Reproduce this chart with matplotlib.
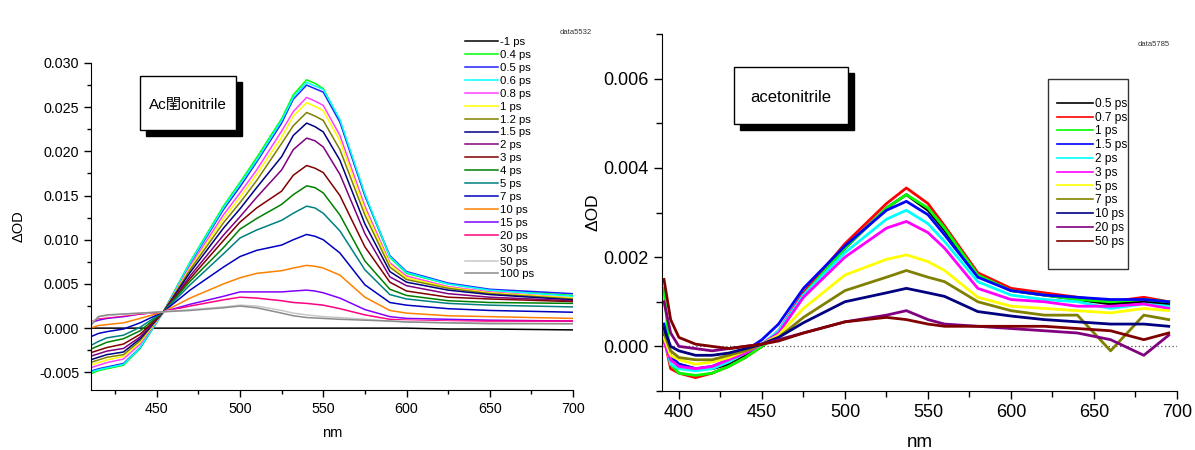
import numpy as np
import matplotlib
matplotlib.use('Agg')
import matplotlib.pyplot as plt
from matplotlib.patches import Rectangle

plt.rcParams['font.family'] = ['Liberation Sans', 'Noto Sans CJK JP', 'DejaVu Sans']
plt.rcParams['axes.unicode_minus'] = False

# ---- left panel: data5532 (values in mOD) ----
nm_left = [410, 415, 420, 430, 440, 454, 470, 490, 500, 510, 525, 532, 540, 545, 550, 560, 575, 590, 600, 625, 650, 700]
labels_left = ['-1 ps', '0.4 ps', '0.5 ps', '0.6 ps', '0.8 ps', '1 ps', '1.2 ps', '1.5 ps', '2 ps', '3 ps',
               '4 ps', '5 ps', '7 ps', '10 ps', '15 ps', '20 ps', '30 ps', '50 ps', '100 ps']
colors_left = ['#000000', '#00ff00', '#2020ff', '#00ffff', '#ff40ff', '#ffff00', '#808000', '#000080',
               '#800080', '#800000', '#008000', '#008080', '#0000c0', '#ff8000', '#8000ff', '#ff0080',
               '#ffffff', '#c8c8c8', '#8c8c8c']
s_m1 = [0, 0, 0, 0, 0, 0, 0, 0, 0, 0, 0, 0, 0, 0, 0, 0, 0, 0, 0, -0.1, -0.1, -0.2]
s_04 = [-5.2, -4.8, -4.6, -4.2, -2.3, 1.85, 7.5, 13.8, 16.5, 19.3, 23.7, 26.4, 28.1, 27.7, 27.1, 23.5, 15.0, 8.0, 6.2, 5.0, 4.3, 3.7]
s_05 = [-4.9, -4.6, -4.4, -4.0, -2.2, 1.85, 7.3, 13.4, 16.0, 18.8, 23.2, 25.9, 27.5, 27.1, 26.7, 23.3, 15.0, 8.2, 6.4, 5.1, 4.4, 3.9]
s_06 = [-5.0, -4.7, -4.5, -4.1, -2.2, 1.85, 7.4, 13.6, 16.3, 19.0, 23.5, 26.1, 27.8, 27.4, 27.0, 23.6, 15.2, 8.1, 6.3, 5.0, 4.3, 3.6]
s_08 = [-4.5, -4.2, -3.9, -3.5, -1.8, 1.85, 7.0, 12.8, 15.3, 17.9, 22.3, 24.5, 26.1, 25.7, 25.2, 21.8, 13.8, 7.4, 5.9, 4.7, 4.1, 3.4]
s_1 = [-4.2, -3.9, -3.6, -3.2, -1.6, 1.85, 6.8, 12.4, 14.8, 17.4, 21.6, 24.0, 25.5, 25.1, 24.6, 21.2, 13.4, 7.2, 5.7, 4.6, 4.0, 3.4]
s_12 = [-3.9, -3.6, -3.3, -3.0, -1.4, 1.85, 6.6, 11.9, 14.2, 16.7, 20.9, 22.9, 24.4, 24.0, 23.5, 20.2, 12.8, 6.9, 5.5, 4.5, 3.9, 3.3]
s_15 = [-3.6, -3.3, -3.0, -2.7, -1.2, 1.85, 6.3, 11.3, 13.5, 15.9, 19.4, 21.8, 23.2, 22.8, 22.2, 19.0, 11.8, 6.4, 5.2, 4.3, 3.8, 3.2]
s_2 = [-3.2, -2.9, -2.6, -2.3, -1.0, 1.85, 5.9, 10.5, 12.6, 14.8, 17.9, 20.2, 21.5, 21.2, 20.5, 17.4, 10.7, 5.8, 4.8, 3.9, 3.5, 3.1]
s_3 = [-2.8, -2.5, -2.2, -1.8, -0.7, 1.85, 5.6, 9.9, 12.0, 13.6, 15.5, 17.3, 18.4, 18.1, 17.6, 15.0, 9.2, 5.2, 4.2, 3.5, 3.3, 3.0]
s_4 = [-2.4, -2.0, -1.6, -1.2, -0.3, 1.85, 5.3, 9.1, 11.2, 12.4, 14.0, 15.1, 16.1, 15.9, 15.3, 12.8, 7.6, 4.4, 3.7, 3.1, 2.9, 2.8]
s_5 = [-2.0, -1.5, -1.1, -0.8, 0.1, 1.85, 4.9, 8.4, 10.2, 11.1, 12.2, 13.0, 13.8, 13.6, 13.0, 11.0, 6.6, 3.8, 3.3, 2.8, 2.6, 2.4]
s_7 = [-1.0, -0.6, -0.4, -0.1, 0.6, 1.85, 4.3, 6.9, 8.1, 8.8, 9.4, 10.0, 10.6, 10.4, 10.0, 8.5, 4.9, 2.9, 2.6, 2.2, 2.0, 1.8]
s_10 = [0.0, 0.3, 0.4, 0.6, 1.1, 1.85, 3.4, 5.0, 5.7, 6.2, 6.5, 6.8, 7.1, 7.0, 6.8, 6.0, 3.5, 2.0, 1.7, 1.4, 1.3, 1.1]
s_15ps = [0.6, 0.9, 1.1, 1.3, 1.6, 1.85, 2.7, 3.6, 4.1, 4.1, 4.1, 4.2, 4.3, 4.2, 4.0, 3.4, 2.1, 1.3, 1.1, 1.0, 0.9, 0.8]
s_20 = [0.8, 1.1, 1.2, 1.4, 1.6, 1.85, 2.5, 3.2, 3.5, 3.4, 3.1, 2.9, 2.8, 2.7, 2.6, 2.2, 1.5, 1.0, 0.9, 0.8, 0.8, 0.8]
s_30 = [0.9, 1.2, 1.3, 1.5, 1.7, 1.85, 2.2, 2.6, 2.8, 2.7, 2.3, 2.1, 1.9, 1.8, 1.7, 1.5, 1.1, 0.8, 0.8, 0.7, 0.6, 0.6]
s_50 = [0.5, 1.3, 1.4, 1.6, 1.7, 1.85, 2.1, 2.4, 2.6, 2.5, 2.0, 1.7, 1.5, 1.4, 1.3, 1.2, 1.0, 0.8, 0.7, 0.6, 0.6, 0.5]
s_100 = [0.2, 1.3, 1.5, 1.6, 1.7, 1.85, 2.0, 2.3, 2.5, 2.3, 1.7, 1.4, 1.2, 1.15, 1.1, 1.0, 0.9, 0.8, 0.7, 0.6, 0.5, 0.5]
series_left = [s_m1, s_04, s_05, s_06, s_08, s_1, s_12, s_15, s_2, s_3, s_4, s_5, s_7, s_10,
               s_15ps, s_20, s_30, s_50, s_100]

# ---- right panel: data5785 (values in mOD) ----
nm_right = [391, 395, 400, 410, 420, 430, 440, 450, 460, 475, 500, 525, 537, 550, 560, 580, 600, 620, 640, 660, 680, 695]
labels_right = ['0.5 ps', '0.7 ps', '1 ps', '1.5 ps', '2 ps', '3 ps', '5 ps', '7 ps', '10 ps', '20 ps', '50 ps']
colors_right = ['#000000', '#ff0000', '#00ff00', '#0000ff', '#00ffff', '#ff00ff', '#ffff00', '#808000',
                '#000080', '#800080', '#800000']
r_05 = [0.3, -0.3, -0.4, -0.5, -0.5, -0.4, -0.2, 0.0, 0.3, 1.15, 2.2, 3.1, 3.4, 3.05, 2.6, 1.6, 1.25, 1.15, 1.05, 0.95, 1.0, 0.95]
r_07 = [0.2, -0.5, -0.6, -0.7, -0.6, -0.45, -0.25, 0.0, 0.35, 1.2, 2.3, 3.2, 3.55, 3.2, 2.7, 1.65, 1.3, 1.2, 1.1, 1.0, 1.1, 1.0]
r_1 = [1.3, -0.4, -0.6, -0.65, -0.6, -0.45, -0.25, 0.0, 0.3, 1.15, 2.2, 3.1, 3.4, 3.1, 2.65, 1.6, 1.25, 1.15, 1.05, 1.0, 1.05, 1.0]
r_15 = [0.5, -0.2, -0.4, -0.5, -0.45, -0.3, -0.1, 0.15, 0.5, 1.3, 2.25, 3.05, 3.25, 2.95, 2.5, 1.55, 1.25, 1.15, 1.1, 1.05, 1.05, 1.0]
r_2 = [0.2, -0.4, -0.5, -0.55, -0.5, -0.35, -0.15, 0.05, 0.35, 1.15, 2.1, 2.85, 3.05, 2.75, 2.35, 1.45, 1.15, 1.05, 1.0, 0.85, 0.95, 0.9]
r_3 = [0.1, -0.3, -0.45, -0.5, -0.45, -0.3, -0.15, 0.05, 0.3, 1.1, 2.0, 2.65, 2.8, 2.55, 2.2, 1.3, 1.05, 1.0, 0.9, 0.9, 0.95, 0.85]
r_5 = [0.2, -0.2, -0.3, -0.4, -0.35, -0.25, -0.1, 0.05, 0.25, 0.85, 1.6, 1.95, 2.05, 1.9, 1.7, 1.1, 0.9, 0.85, 0.8, 0.75, 0.85, 0.8]
r_7 = [0.3, -0.1, -0.25, -0.3, -0.3, -0.2, -0.1, 0.05, 0.2, 0.65, 1.25, 1.55, 1.7, 1.55, 1.45, 1.0, 0.8, 0.7, 0.7, -0.1, 0.7, 0.6]
r_10 = [0.4, 0.0, -0.1, -0.2, -0.2, -0.15, -0.05, 0.05, 0.2, 0.53, 1.0, 1.2, 1.3, 1.2, 1.12, 0.78, 0.68, 0.6, 0.55, 0.5, 0.5, 0.45]
r_20 = [1.0, 0.3, 0.0, -0.05, -0.1, -0.05, 0.0, 0.05, 0.15, 0.3, 0.55, 0.7, 0.8, 0.6, 0.5, 0.45, 0.4, 0.35, 0.3, 0.15, -0.2, 0.25]
r_50 = [1.5, 0.6, 0.2, 0.05, 0.0, -0.05, 0.0, 0.05, 0.12, 0.3, 0.55, 0.65, 0.6, 0.5, 0.45, 0.45, 0.45, 0.45, 0.4, 0.35, 0.15, 0.3]
series_right = [r_05, r_07, r_1, r_15, r_2, r_3, r_5, r_7, r_10, r_20, r_50]

W, H = 1195, 450
fig = plt.figure(figsize=(W / 100, H / 100), dpi=100)


def fx(px):
    return px / W


def fy(py):
    return 1 - py / H


def shadow_box(x0, y0, x1, y1, text, size):
    # white box with black drop shadow, pixel coords
    fig.add_artist(Rectangle((fx(x0 + 6), fy(y1 + 6)), fx(x1 - x0), (y1 - y0) / H,
                             transform=fig.transFigure, facecolor='black', edgecolor='black', zorder=5))
    fig.add_artist(Rectangle((fx(x0), fy(y1)), fx(x1 - x0), (y1 - y0) / H,
                             transform=fig.transFigure, facecolor='white', edgecolor='black', lw=1, zorder=6))
    fig.text(fx((x0 + x1) / 2), fy((y0 + y1) / 2 + 2), text, ha='center', va='center', fontsize=size, zorder=7)


# left axes
ax1 = fig.add_axes([fx(91), fy(390), fx(573 - 91), (390 - 63) / H])
for s, c, lab in zip(series_left, colors_left, labels_left):
    ax1.plot(nm_left, np.array(s) / 1000, color=c, lw=1.1, label=lab)
ax1.set_xlim(410.5, 700)
ax1.set_ylim(-0.007, 0.030)
ax1.set_xticks([450, 500, 550, 600, 650, 700])
ax1.set_xticks([425, 475, 525, 575, 625, 675], minor=True)
ax1.set_yticks([-0.005, 0.0, 0.005, 0.010, 0.015, 0.020, 0.025, 0.030])
ax1.set_yticks(np.arange(-0.0025, 0.030, 0.005), minor=True)
ax1.yaxis.set_major_formatter(plt.FormatStrFormatter('%.3f'))
ax1.tick_params(labelsize=10.3, length=5, width=1)
ax1.tick_params(which='minor', length=3, width=1)
ax1.spines['top'].set_visible(False)
ax1.spines['right'].set_visible(False)
ax1.set_xlabel('nm', fontsize=10.5, labelpad=7)
ax1.set_ylabel('ΔOD', fontsize=10.5, labelpad=10)
leg1 = ax1.legend(loc='upper left', bbox_to_anchor=(0.775, 1.079), frameon=False, fontsize=8.2,
                  handlelength=2.9, handletextpad=0.2, labelspacing=0.255, borderaxespad=0, borderpad=0)
fig.text(fx(592), fy(32), 'data5532', ha='right', va='center', fontsize=5.5, color='#333333')
shadow_box(140, 76, 236, 130, 'Ac閨onitrile', 11)

# right axes
ax2 = fig.add_axes([fx(662), fy(391), fx(1177 - 662), (391 - 34) / H])
ax2.axhline(0, color='#555555', lw=0.9, ls=(0, (1, 2)), zorder=0)
handles = []
for s, c, lab in zip(series_right, colors_right, labels_right):
    h, = ax2.plot(nm_right, np.array(s) / 1000, color=c, lw=2.0, label=lab)
    handles.append(h)
ax2.set_xlim(389.8, 700)
ax2.set_ylim(-0.001, 0.007)
ax2.set_xticks([400, 450, 500, 550, 600, 650, 700])
ax2.set_xticks([425, 475, 525, 575, 625, 675], minor=True)
ax2.set_yticks([0.0, 0.002, 0.004, 0.006])
ax2.set_yticks([-0.001, 0.001, 0.003, 0.005, 0.007], minor=True)
ax2.yaxis.set_major_formatter(plt.FormatStrFormatter('%.3f'))
ax2.tick_params(labelsize=13, length=6, width=1)
ax2.tick_params(which='minor', length=4, width=1)
ax2.spines['top'].set_visible(False)
ax2.spines['right'].set_visible(False)
ax2.set_xlabel('nm', fontsize=13.5, labelpad=9)
ax2.set_ylabel('ΔOD', fontsize=12.5, labelpad=2)
legbox = Rectangle((fx(1048), fy(269)), fx(1128 - 1048), (269 - 79) / H, transform=fig.transFigure,
                   facecolor='white', edgecolor='#333333', lw=1, zorder=7, clip_on=False)
ax2.add_patch(legbox)
leg2 = ax2.legend(handles=handles, loc='upper left', bbox_to_anchor=(0.767, 0.821), frameon=False,
                  fontsize=8.6, handlelength=3.0, handletextpad=0.15, labelspacing=0.15, borderaxespad=0,
                  borderpad=0)
leg2.set_zorder(8)
for ln in leg2.get_lines():
    ln.set_linewidth(1.2)
fig.text(fx(1170), fy(45), 'data5785', ha='right', va='center', fontsize=5.5, color='#333333')
shadow_box(734, 67, 848, 124, 'acetonitrile', 12)

fig.savefig('out.png', dpi=100)
